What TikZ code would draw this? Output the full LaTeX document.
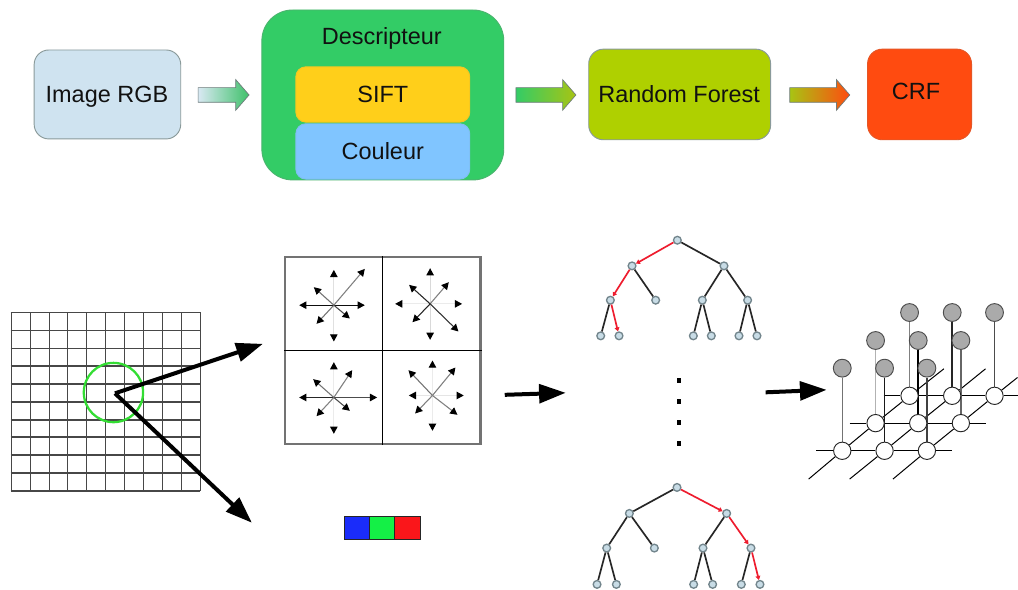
\documentclass[tikz,border=0pt]{standalone}
\usepackage{fontspec}
\setmainfont{Liberation Sans}
\usetikzlibrary{arrows.meta,shapes.arrows,backgrounds}
\definecolor{bxline}{HTML}{8A9A9A}
\definecolor{cimg}{HTML}{CFE3F0}
\definecolor{cdesc}{HTML}{33CC66}
\definecolor{csift}{HTML}{FFCF1A}
\definecolor{ccoul}{HTML}{80C5FF}
\definecolor{cforest}{HTML}{AFD000}
\definecolor{ccrf}{HTML}{FF4B10}
\definecolor{ink}{HTML}{111111}
\definecolor{treefill}{HTML}{C8DCE6}
\definecolor{treeline}{HTML}{72858C}
\definecolor{treered}{HTML}{EE1C2E}
\definecolor{graygate}{HTML}{AAAAAA}
\definecolor{cblue}{HTML}{1A2CFA}
\definecolor{cgreen}{HTML}{14F046}
\definecolor{cred}{HTML}{FA161A}
\definecolor{cring}{HTML}{33DD33}
\tikzset{
  txt/.style={font=\fontsize{17.6pt}{20pt}\selectfont,text=ink,inner sep=0pt},
  box/.style={draw=bxline,line width=.7pt,inner sep=0pt},
  flow/.style={single arrow,draw=bxline!80!black,line width=.5pt,inner xsep=0pt,inner ysep=5.25pt,
    single arrow head extend=6pt,single arrow tip angle=98,shape border rotate=0},
  bigarrow/.style={line width=3pt,-{Triangle[length=20pt,width=14pt]},black},
  gridline/.style={draw=black!72,line width=1.25pt},
  siftarrow/.style={line width=.8pt,-{Triangle[length=5.4pt,width=5.6pt,color=black,fill=black]}},
  tn/.style={circle,draw=treeline,fill=treefill,line width=1pt,minimum size=5.8pt,inner sep=0pt},
  te/.style={draw=black!85,line width=1.25pt},
  tr/.style={draw=treered,line width=1.25pt,-{Triangle[length=3pt,width=3.6pt]}},
  dotn/.style={fill=black,minimum size=3.6pt,inner sep=0pt},
  wn/.style={circle,draw=black!85,fill=white,line width=.7pt,minimum size=13pt,inner sep=0pt},
  gn/.style={circle,draw=black!70,fill=graygate,line width=.7pt,minimum size=13.4pt,inner sep=0pt},
  gl/.style={draw=black,line width=.75pt},
  barc/.style={draw=black!85,line width=.8pt,minimum width=19pt,minimum height=17pt,inner sep=0pt},
}
\begin{document}
\begin{tikzpicture}[x=.75pt,y=-.75pt]
\begin{scope}[on background layer]
  \path[use as bounding box,fill=white] (0,0) rectangle (1018,590);
\end{scope}

% --- top row
\node[box,fill=cimg,rounded corners=11pt,minimum width=110pt,minimum height=66.75pt] (img) at (107.5,94.5) {};
\node[txt] (imgt) at (107,97) {Image RGB};
\node[box,fill=cdesc,rounded corners=23pt,minimum width=181.5pt,minimum height=127.5pt,draw=cdesc!70!gray] (desc) at (383,95) {};
\node[txt] (desct) at (382,38.5) {Descripteur};
\node[box,fill=csift,draw=csift!90!gray,rounded corners=7.5pt,minimum width=130.5pt,minimum height=41.5pt] (sift) at (383,94.5) {};
\node[txt] (siftt) at (383,94) {SIFT};
\node[box,fill=ccoul,draw=ccoul!90!gray,rounded corners=7.5pt,minimum width=130.5pt,minimum height=41.5pt] (coul) at (383,151.5) {};
\node[txt] (coult) at (383,151) {Couleur};
\node[box,fill=cforest,rounded corners=11pt,minimum width=136.5pt,minimum height=68pt] (forest) at (680,94.5) {};
\node[txt] (forestt) at (679.5,94.5) {Random Forest};
\node[box,fill=ccrf,draw=ccrf!80!gray,rounded corners=11pt,minimum width=78pt,minimum height=68pt] (crf) at (920,94.5) {};
\node[txt] (crft) at (916.5,91) {CRF};

\node[flow,left color=cimg!80!white,right color=cdesc!85!gray,minimum height=38.25pt] (fa) at (220.5,95) {};
\node[flow,left color=cdesc,right color=cforest!85!gray,minimum height=45pt] (fb) at (543,95) {};
\node[flow,left color=cforest!85!gray,right color=ccrf,minimum height=45pt] (fc) at (817,95) {};

% --- grid
\foreach \i in {0,...,10}{
  \draw[gridline] ({round(10.7+18.93*\i)+.5},312.5) -- ({round(10.7+18.93*\i)+.5},491);
  \draw[gridline] (10.7,{round(312.3+17.87*\i)+.5}) -- (200.5,{round(312.3+17.87*\i)+.5});
}
\node[circle,draw=cring,line width=1.7pt,minimum size=44.5pt,inner sep=0pt] (pt) at (113.5,392.7) {};
\coordinate (o) at (115,393.5);
\coordinate (toSift) at (263,344);
\coordinate (toCol) at (252,523);
\draw[bigarrow] (o) -- (toSift);
\draw[bigarrow] (o) -- (toCol);

% --- SIFT panel
\node[draw=black!55,line width=1.6pt,minimum width=146.5pt,minimum height=140pt,inner sep=0pt] (panel) at (383,350.7) {};
\draw[black,line width=1pt] (panel.north) -- (panel.south);
\draw[black,line width=1pt] (panel.west) -- (panel.east);
\begin{scope}[shift={(270,245)},x=.25pt,y=-.25pt]
  \coordinate (q1) at (192,181);
  \coordinate (q2) at (481,177);
  \coordinate (q3) at (192,458);
  \coordinate (q4) at (488,452);
  \foreach \dx/\dy/\g in {0/-106/12,0/109/12,-104/0/95,93/0/95,93/-109/50,-60/-54/55,-52/56/55,48/40/72}
    \draw[siftarrow,draw=black!\g] (q1) -- ++(\dx,\dy);
  \foreach \dx/\dy/\g in {0/-107/15,0/108/15,-105/0/8,96/0/8,56/-65/50,-63/-57/85,-53/55/85,85/83/80}
    \draw[siftarrow,draw=black!\g] (q2) -- ++(\dx,\dy);
  \foreach \dx/\dy/\g in {0/-106/8,0/109/8,-104/0/85,130/0/70,55/-82/50,-62/-55/55,-52/56/50,48/40/70}
    \draw[siftarrow,draw=black!\g] (q3) -- ++(\dx,\dy);
  \foreach \dx/\dy/\g in {0/-105/8,0/106/8,-71/0/10,94/0/10,69/-84/50,-72/-76/55,-52/54/50,75/58/50}
    \draw[siftarrow,draw=black!\g] (q4) -- ++(\dx,\dy);
\end{scope}

% --- colour bar
\node[barc,fill=cblue] (cb) at (357.3,528.3) {};
\node[barc,fill=cgreen] (cg) at (382.5,528.3) {};
\node[barc,fill=cred] (cr) at (407.7,528.3) {};

% --- arrows panel -> trees -> graph
\coordinate (a1s) at (505,395);
\coordinate (a1e) at (566,393);
\coordinate (a2s) at (766,392.5);
\coordinate (a2e) at (827,390);
\draw[bigarrow] (a1s) -- (a1e);
\draw[bigarrow] (a2s) -- (a2e);

% --- top tree
\begin{scope}[shift={(580,225)},x=.25pt,y=-.25pt]
  \node[tn] (ar) at (293,46) {};
  \node[tn] (aa) at (157,123) {};
  \node[tn] (ab) at (433,123) {};
  \node[tn] (aaa) at (92,226) {};
  \node[tn] (aab) at (228,226) {};
  \node[tn] (aba) at (368,226) {};
  \node[tn] (abb) at (504,226) {};
  \node[tn] (aaaa) at (63,333) {};
  \node[tn] (aaab) at (118,333) {};
  \node[tn] (abaa) at (341,333) {};
  \node[tn] (abab) at (395,333) {};
  \node[tn] (abba) at (478,333) {};
  \node[tn] (abbb) at (532,333) {};
\end{scope}
\draw[tr] (ar) -- (aa);
\draw[te] (ar) -- (ab);
\draw[tr] (aa) -- (aaa);
\draw[te] (aa) -- (aab);
\draw[te] (ab) -- (aba);
\draw[te] (ab) -- (abb);
\draw[te] (aaa) -- (aaaa);
\draw[tr] (aaa) -- (aaab);
\draw[te] (aba) -- (abaa);
\draw[te] (aba) -- (abab);
\draw[te] (abb) -- (abba);
\draw[te] (abb) -- (abbb);

% --- dots
\node[dotn] (d1) at (679.3,381) {};
\node[dotn] (d2) at (679.3,402) {};
\node[dotn] (d3) at (679.3,423) {};
\node[dotn] (d4) at (679.3,444) {};

% --- bottom tree
\begin{scope}[shift={(580,470)},x=.25pt,y=-.25pt]
  \node[tn] (br) at (292,53) {};
  \node[tn] (ba) at (149,131) {};
  \node[tn] (bb) at (441,131) {};
  \node[tn] (baa) at (81,235) {};
  \node[tn] (bab) at (224,235) {};
  \node[tn] (bba) at (370,235) {};
  \node[tn] (bbb) at (514,235) {};
  \node[tn] (baaa) at (52,344) {};
  \node[tn] (baab) at (110,344) {};
  \node[tn] (bbaa) at (342,344) {};
  \node[tn] (bbab) at (399,344) {};
  \node[tn] (bbba) at (485,344) {};
  \node[tn] (bbbb) at (541,344) {};
\end{scope}
\draw[te] (br) -- (ba);
\draw[tr] (br) -- (bb);
\draw[te] (ba) -- (baa);
\draw[te] (ba) -- (bab);
\draw[te] (bb) -- (bba);
\draw[tr] (bb) -- (bbb);
\draw[te] (baa) -- (baaa);
\draw[te] (baa) -- (baab);
\draw[te] (bba) -- (bbaa);
\draw[te] (bba) -- (bbab);
\draw[te] (bbb) -- (bbba);
\draw[tr] (bbb) -- (bbbb);

% --- CRF graph
\begin{scope}[shift={(800,295)},x=.25pt,y=-.25pt]
  \node[gn] (g11) at (128,220) {};
  \node[gn] (g12) at (255,220) {};
  \node[gn] (g13) at (382,220) {};
  \node[gn] (g21) at (228,137) {};
  \node[gn] (g22) at (356,137) {};
  \node[gn] (g23) at (484,137) {};
  \node[gn] (g31) at (330,53) {};
  \node[gn] (g32) at (458,53) {};
  \node[gn] (g33) at (585,53) {};
  \node[wn] (w11) at (128,468) {};
  \node[wn] (w12) at (255,468) {};
  \node[wn] (w13) at (382,468) {};
  \node[wn] (w21) at (228,385) {};
  \node[wn] (w22) at (356,385) {};
  \node[wn] (w23) at (484,385) {};
  \node[wn] (w31) at (330,303) {};
  \node[wn] (w32) at (458,303) {};
  \node[wn] (w33) at (585,303) {};
  \coordinate (h1a) at (50,468);
  \coordinate (h1b) at (458,468);
  \coordinate (h2a) at (150,385);
  \coordinate (h2b) at (558,385);
  \coordinate (h3a) at (252,303);
  \coordinate (h3b) at (654,303);
  \coordinate (d1a) at (27,553);
  \coordinate (d1b) at (433,222);
  \coordinate (d2a) at (150,553);
  \coordinate (d2b) at (558,222);
  \coordinate (d3a) at (280,553);
  \coordinate (d3b) at (654,248);
\end{scope}
\begin{scope}[on background layer]
  \draw[gl] (h1a) -- (w11) -- (w12) -- (w13) -- (h1b);
  \draw[gl] (h2a) -- (w21) -- (w22) -- (w23) -- (h2b);
  \draw[gl] (h3a) -- (w31) -- (w32) -- (w33) -- (h3b);
  \draw[gl] (d1a) -- (w11) -- (w21) -- (w31) -- (d1b);
  \draw[gl] (d2a) -- (w12) -- (w22) -- (w32) -- (d2b);
  \draw[gl] (d3a) -- (w13) -- (w23) -- (w33) -- (d3b);
  \draw[line width=1.1pt,draw=black!55] (g11) -- (w11);
  \draw[line width=1.1pt,draw=black!90] (g12) -- (w12);
  \draw[line width=1.1pt,draw=black!75] (g13) -- (w13);
  \draw[line width=1.1pt,draw=black!30] (g21) -- (w21);
  \draw[line width=1.1pt,draw=black] (g22) -- (w22);
  \draw[line width=1.1pt,draw=black!60] (g23) -- (w23);
  \draw[line width=1.1pt,draw=black!50] (g31) -- (w31);
  \draw[line width=1.1pt,draw=black!85] (g32) -- (w32);
  \draw[line width=1.1pt,draw=black!70] (g33) -- (w33);
\end{scope}
\end{tikzpicture}
\end{document}
